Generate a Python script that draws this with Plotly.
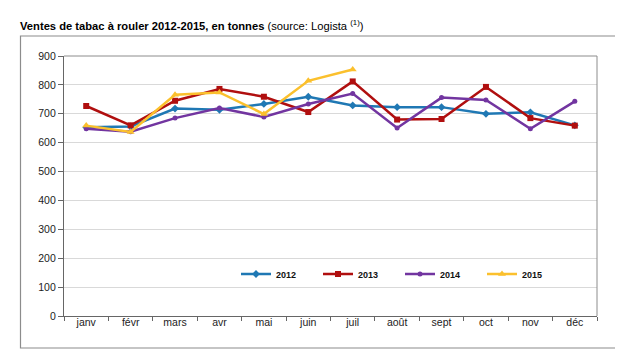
import plotly.graph_objects as go

months = ["janv", "févr", "mars", "avr", "mai", "juin", "juil", "août", "sept", "oct", "nov", "déc"]
v2012 = [653, 656, 718, 714, 734, 759, 729, 723, 723, 700, 705, 660]
v2013 = [727, 660, 745, 786, 759, 706, 812, 680, 682, 793, 685, 659]
v2014 = [648, 638, 685, 720, 689, 734, 770, 651, 756, 748, 648, 743]
v2015 = [659, 637, 766, 774, 699, 814, 853]
y_ticks = [0, 100, 200, 300, 400, 500, 600, 700, 800, 900]

series = [
    ("2012", v2012, "#1F78B4", "diamond", 6),
    ("2013", v2013, "#B00F0F", "square", 6),
    ("2014", v2014, "#7235A0", "circle", 5),
    ("2015", v2015, "#FBC02D", "triangle-up", 7),
]

fig = go.Figure()
for name, vals, col, sym, sz in series:
    fig.add_trace(go.Scatter(
        x=months[:len(vals)], y=vals, name="<b>" + name + "</b>",
        mode="lines+markers",
        line=dict(color=col, width=2.5),
        marker=dict(symbol=sym, size=sz, color=col),
    ))

W0, W1 = 56, 589
T0, T1 = 48, 308
pw, ph = W1 - W0, T1 - T0

def px(x):
    return (x - W0) / pw

def py(y):
    return (T1 - y) / ph

fig.add_shape(type="rect", xref="paper", yref="paper",
              x0=px(12.5), x1=px(612.5), y0=py(340), y1=py(28),
              line=dict(color="#8C8C8C", width=1.2), layer="below")

fig.add_annotation(xref="paper", yref="paper", x=px(10), y=py(8), xanchor="left", yanchor="top",
                   showarrow=False,
                   text="<b>Ventes de tabac à rouler 2012-2015, en tonnes</b> (source: Logista <sup>(1)</sup>)",
                   font=dict(family="Liberation Sans, Arial", size=11.2, color="#000"))

fig.update_layout(
    width=623, height=355,
    margin=dict(l=W0, r=623 - W1, t=T0, b=355 - T1),
    paper_bgcolor="white", plot_bgcolor="white",
    font=dict(family="Liberation Sans, Arial", size=10.5, color="#222"),
    showlegend=True,
    legend=dict(orientation="h", x=px(228), y=py(266), xanchor="left", yanchor="middle",
                font=dict(size=9, color="#111"), entrywidth=37, entrywidthmode="pixels",
                bgcolor="rgba(255,255,255,0)", itemclick=False),
    xaxis=dict(categoryorder="array", categoryarray=months, range=[-0.5, 11.5],
               showline=True, linecolor="#666", linewidth=1.2, mirror=False,
               ticks="outside", tickson="boundaries", ticklen=4, tickcolor="#666",
               ticklabelstandoff=-4,
               showgrid=False, fixedrange=True),
    yaxis=dict(range=[0, 900], tickvals=y_ticks, showline=True, linecolor="#666", linewidth=1.2,
               ticks="outside", ticklen=5, tickcolor="#666", gridcolor="#D9D9D9", gridwidth=1,
               zeroline=False, fixedrange=True),
)
fig.add_shape(type="line", xref="paper", yref="paper", x0=0, x1=1, y0=1, y1=1,
              line=dict(color="#8C8C8C", width=1))
fig.add_shape(type="line", xref="paper", yref="paper", x0=1, x1=1, y0=0, y1=1,
              line=dict(color="#8C8C8C", width=1))

fig.write_html("out.html")
